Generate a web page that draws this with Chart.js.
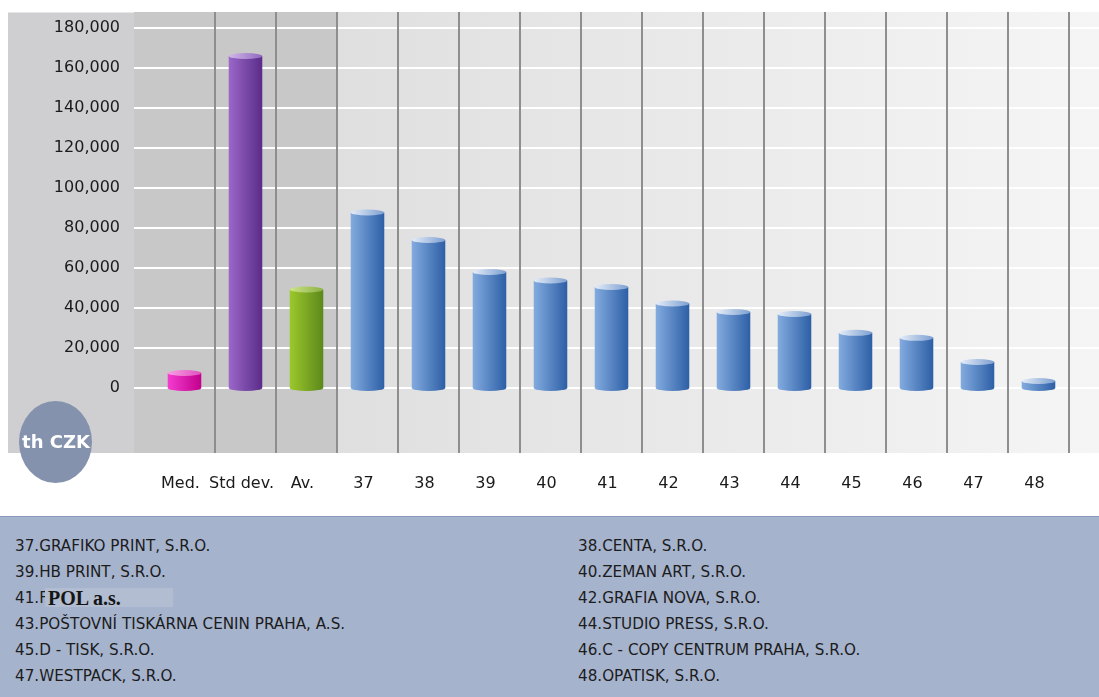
<!DOCTYPE html>
<html>
<head>
<meta charset="utf-8">
<title>th CZK</title>
<script src="https://cdn.jsdelivr.net/npm/chart.js@4.4.1/dist/chart.umd.min.js"></script>
<style>
  body { margin: 0; background: #fff; font-family: "DejaVu Sans", Verdana, sans-serif; }
  #wrap { position: relative; width: 1099px; height: 697px; overflow: hidden; }
  #chart { position: absolute; left: 0; top: 0; }
  #legend {
    position: absolute; left: 0; top: 516px; width: 1099px; height: 181px;
    background: #a6b3cd; border-top: 1px solid #8a9aba; box-sizing: border-box;
  }
  .row { position: absolute; font-size: 15.2px; line-height: 20px; color: #1c1c1c; white-space: nowrap; }
  .mask {
    position: absolute; left: 45px; top: 71px; width: 128px; height: 19px;
    background: #b2bdd1; padding-left: 3px; box-sizing: border-box;
    font: bold 20px "Liberation Serif", "Times New Roman", serif; line-height: 20px; color: #151515;
  }
</style>
</head>
<body>
<div id="wrap">
  <canvas id="chart" width="1099" height="516"></canvas>
  <div id="legend"></div>
</div>
<script>
// --- data ---
const categories = ['Med.', 'Std dev.', 'Av.', '37', '38', '39', '40', '41', '42', '43', '44', '45', '46', '47', '48'];
const values = [7500, 166000, 49250, 87750, 74000, 58000, 53750, 50500, 42250, 38000, 37000, 27600, 25100, 13000, 3500];
const yTickValues = [0, 20000, 40000, 60000, 80000, 100000, 120000, 140000, 160000, 180000];
const yMin = -32500;
const yMax = 188000;

const companyNumbers = [37, 38, 39, 40, 41, 42, 43, 44, 45, 46, 47, 48];
const companyNames = [
    'GRAFIKO PRINT, S.R.O.', 'CENTA, S.R.O.',
    'HB PRINT, S.R.O.', 'ZEMAN ART, S.R.O.',
    'F', 'GRAFIA NOVA, S.R.O.',
    'POŠTOVNÍ TISKÁRNA CENIN PRAHA, A.S.', 'STUDIO PRESS, S.R.O.',
    'D - TISK, S.R.O.', 'C - COPY CENTRUM PRAHA, S.R.O.',
    'WESTPACK, S.R.O.', 'OPATISK, S.R.O.'
];

// cylinder colours: [side light, side dark, cap light, cap dark]
const magenta = ['#f43ccf', '#c2008c', '#f7a0e2', '#e050c0'];
const purple = ['#9b68c9', '#5a2c88', '#d2b8e8', '#9068c0'];
const green = ['#9cc82c', '#5c881c', '#cce488', '#8cb044'];
const blue = ['#83abdf', '#2d5fa6', '#e4ecf8', '#7c9fd0'];
const barColors = [magenta, purple, green].concat(categories.slice(3).map(() => blue));

// --- legend below the chart ---
const legendEl = document.getElementById('legend');
companyNumbers.forEach((num, i) => {
    const row = document.createElement('div');
    row.className = 'row';
    row.style.left = (i % 2 === 0 ? 15 : 578) + 'px';
    row.style.top = (19 + Math.floor(i / 2) * 26) + 'px';
    row.textContent = num + '.' + companyNames[i];
    legendEl.appendChild(row);
});
const mask = document.createElement('div');
mask.className = 'mask';
mask.textContent = 'POL a.s.';
legendEl.appendChild(mask);

// --- plot background: panels, white grid, column separators ---
const backdrop = {
    id: 'backdrop',
    beforeDraw(chart) {
        const { ctx, scales: { x, y }, chartArea } = chart;
        const top = chartArea.top, bottom = chartArea.bottom;
        const plotLeft = 134, plotRight = chart.width;
        const half = (x.getPixelForValue(1) - x.getPixelForValue(0)) / 2;
        const splitX = x.getPixelForValue(2) + half;

        ctx.save();
        ctx.fillStyle = '#cfcfd1';
        ctx.fillRect(8, top + 0.5, plotLeft - 8, bottom - top - 0.5);

        ctx.fillStyle = '#c8c8c8';
        ctx.fillRect(plotLeft, top, splitX - plotLeft, bottom - top);

        const g = ctx.createLinearGradient(splitX, 0, plotRight, 0);
        g.addColorStop(0, '#dfdfdf');
        g.addColorStop(1, '#f5f5f5');
        ctx.fillStyle = g;
        ctx.fillRect(splitX, top, plotRight - splitX, bottom - top);

        ctx.strokeStyle = '#ffffff';
        ctx.lineWidth = 2;
        yTickValues.forEach(v => {
            const py = Math.round(y.getPixelForValue(v));
            ctx.beginPath();
            ctx.moveTo(plotLeft, py);
            ctx.lineTo(plotRight, py);
            ctx.stroke();
        });

        ctx.strokeStyle = '#8e8e8e';
        categories.forEach((c, i) => {
            const px = Math.round(x.getPixelForValue(i) + half);
            ctx.beginPath();
            ctx.moveTo(px, top);
            ctx.lineTo(px, bottom);
            ctx.stroke();
        });
        ctx.restore();
    }
};

// --- 3D cylinders on top of the (transparent) bars ---
const cylinders = {
    id: 'cylinders',
    afterDatasetsDraw(chart) {
        const ctx = chart.ctx;
        const meta = chart.getDatasetMeta(0);
        meta.data.forEach((bar, i) => {
            const { x, y, base, width } = bar.getProps(['x', 'y', 'base', 'width'], true);
            const [sideA, sideB, capA, capB] = barColors[i];
            const rx = width / 2, ry = 3;
            const left = x - rx, right = x + rx;

            ctx.save();
            const side = ctx.createLinearGradient(left, 0, right, 0);
            side.addColorStop(0, sideA);
            side.addColorStop(1, sideB);
            ctx.fillStyle = side;
            ctx.beginPath();
            ctx.moveTo(left, y);
            ctx.lineTo(left, base);
            ctx.ellipse(x, base, rx, ry, 0, Math.PI, 0, true);
            ctx.lineTo(right, y);
            ctx.closePath();
            ctx.fill();

            const cap = ctx.createLinearGradient(left, 0, right, 0);
            cap.addColorStop(0, capA);
            cap.addColorStop(1, capB);
            ctx.fillStyle = cap;
            ctx.beginPath();
            ctx.ellipse(x, y, rx, ry, 0, 0, Math.PI * 2);
            ctx.fill();
            ctx.restore();
        });
    }
};

// --- unit badge in the lower left corner ---
const unitBadge = {
    id: 'unitBadge',
    afterDraw(chart) {
        const ctx = chart.ctx;
        ctx.save();
        ctx.fillStyle = '#8492ae';
        ctx.beginPath();
        ctx.ellipse(55.5, 442, 36.5, 41, 0, 0, Math.PI * 2);
        ctx.fill();
        ctx.fillStyle = '#ffffff';
        ctx.font = 'bold 18px "DejaVu Sans", Verdana, sans-serif';
        ctx.textAlign = 'center';
        ctx.textBaseline = 'middle';
        ctx.fillText('th CZK', 56, 443);
        ctx.restore();
    }
};

Chart.defaults.font.family = '"DejaVu Sans", Verdana, sans-serif';
Chart.defaults.font.size = 16;
Chart.defaults.color = '#1a1a1a';

new Chart(document.getElementById('chart').getContext('2d'), {
    type: 'bar',
    data: {
        labels: categories,
        datasets: [{
            data: values,
            backgroundColor: 'rgba(0,0,0,0)',
            borderWidth: 0,
            barPercentage: 0.55,
            categoryPercentage: 1
        }]
    },
    options: {
        responsive: false,
        animation: false,
        layout: { padding: { top: 12, right: 30, bottom: 0, left: 0 } },
        plugins: {
            legend: { display: false },
            tooltip: { enabled: false }
        },
        scales: {
            x: {
                grid: { display: false, drawTicks: false },
                border: { display: false },
                ticks: { padding: 21, labelOffset: -4, maxRotation: 0, autoSkip: false },
                afterFit: s => { s.height = 63; s.paddingLeft = 0; s.paddingRight = 0; }
            },
            y: {
                min: yMin,
                max: yMax,
                grid: { display: false, drawTicks: false },
                border: { display: false },
                ticks: {
                    padding: 34,
                    callback: v => v.toLocaleString('en-US')
                },
                afterBuildTicks: axis => { axis.ticks = yTickValues.map(v => ({ value: v })); },
                afterFit: s => { s.width = 154; s.paddingTop = 0; s.paddingBottom = 0; }
            }
        }
    },
    plugins: [backdrop, cylinders, unitBadge]
});
</script>
</body>
</html>
